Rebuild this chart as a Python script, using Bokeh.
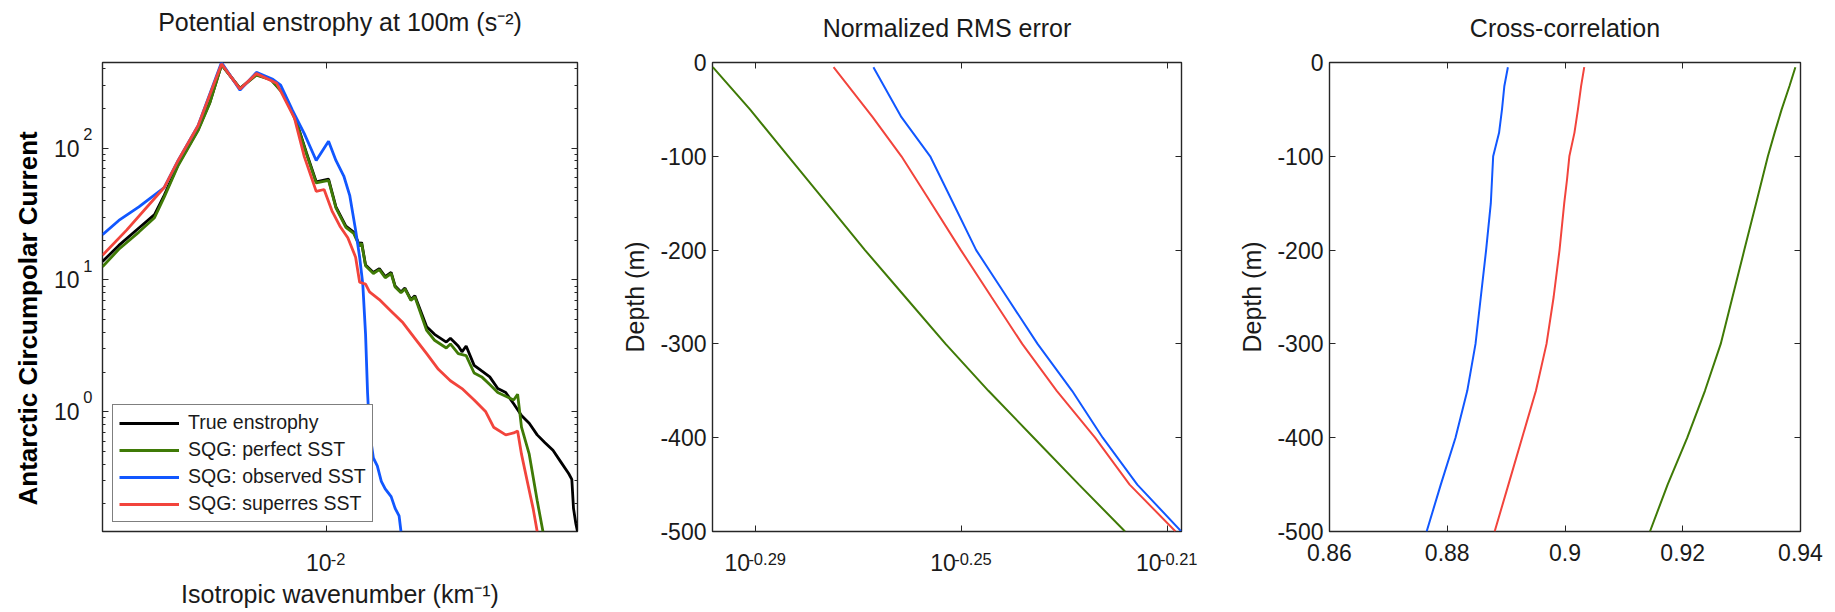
import math
from bokeh.plotting import figure
from bokeh.models import (Range1d, FixedTicker, LinearAxis, LogAxis, Title,
                          Legend, LegendItem)
from bokeh.layouts import row
from bokeh.embed import file_html
from bokeh.resources import INLINE

# ---------------------------------------------------------------- data
# Panel 1: potential enstrophy spectra at 100 m (wavenumber in km^-1)
true_k = [2.02e-3, 2.27e-3, 2.62e-3, 2.93e-3, 3.14e-3, 3.47e-3, 4.00e-3, 4.35e-3,
          4.73e-3, 5.40e-3, 6.07e-3, 6.73e-3, 7.43e-3, 8.09e-3, 8.68e-3, 9.31e-3,
          1.017e-2, 1.072e-2, 1.151e-2, 1.217e-2, 1.270e-2, 1.288e-2, 1.325e-2,
          1.401e-2, 1.462e-2, 1.525e-2, 1.591e-2, 1.637e-2, 1.707e-2, 1.756e-2,
          1.832e-2, 1.885e-2, 2.051e-2, 2.17e-2, 2.36e-2, 2.43e-2, 2.57e-2, 2.64e-2,
          2.72e-2, 2.88e-2, 3.04e-2, 3.22e-2, 3.41e-2, 3.61e-2, 3.82e-2, 4.04e-2,
          4.27e-2, 4.52e-2, 4.78e-2, 5.06e-2, 5.35e-2, 5.66e-2, 5.79e-2, 5.86e-2,
          5.96e-2, 6.03e-2]
true_e = [13.8, 18.3, 24.8, 31.3, 43.9, 75.4, 138, 222,
          430, 285, 361, 333, 254, 158, 92.3, 55.6,
          58.3, 35.9, 25.6, 23.1, 18.3, 19.3, 13.0,
          11.4, 12.2, 10.6, 11.4, 8.99, 8.12, 8.69,
          7.10, 7.59, 4.42, 3.87, 3.38, 3.61, 3.16, 2.85,
          3.16, 2.25, 2.04, 1.84, 1.50, 1.40, 1.15, 0.936,
          0.819, 0.668, 0.583, 0.510, 0.417, 0.340, 0.307, 0.185,
          0.1415, 0.1235]

perfect_k = [2.02e-3, 2.27e-3, 2.62e-3, 2.93e-3, 3.14e-3, 3.47e-3, 4.00e-3, 4.35e-3,
             4.73e-3, 5.40e-3, 6.07e-3, 6.73e-3, 7.43e-3, 8.09e-3, 8.68e-3, 9.31e-3,
             1.017e-2, 1.072e-2, 1.151e-2, 1.217e-2, 1.270e-2, 1.288e-2, 1.325e-2,
             1.401e-2, 1.462e-2, 1.525e-2, 1.591e-2, 1.637e-2, 1.707e-2, 1.756e-2,
             1.832e-2, 1.885e-2, 2.051e-2, 2.17e-2, 2.36e-2, 2.43e-2, 2.57e-2, 2.72e-2,
             2.88e-2, 3.04e-2, 3.22e-2, 3.41e-2, 3.61e-2, 3.82e-2, 3.93e-2, 4.04e-2,
             4.27e-2, 4.52e-2, 4.71e-2]
perfect_e = [12.6, 17.1, 23.1, 29.7, 42.5, 74.0, 136, 220,
             428, 284, 359, 331, 252, 156, 91.0, 54.5,
             57.0, 35.2, 25.1, 22.6, 18.0, 19.0, 12.8,
             11.2, 12.0, 10.4, 11.2, 8.85, 8.0, 8.55,
             7.0, 7.45, 4.14, 3.49, 3.05, 3.27, 2.76, 2.67,
             1.97, 1.84, 1.61, 1.40, 1.31, 1.23, 1.36, 0.765,
             0.477, 0.212, 0.1235]

observed_k = [2.02e-3, 2.27e-3, 2.62e-3, 3.14e-3, 3.47e-3, 4.00e-3, 4.73e-3, 5.40e-3,
              6.07e-3, 6.83e-3, 7.22e-3, 7.86e-3, 8.55e-3, 9.31e-3, 1.017e-2, 1.072e-2,
              1.134e-2, 1.183e-2, 1.234e-2, 1.270e-2, 1.299e-2, 1.325e-2, 1.344e-2,
              1.363e-2, 1.401e-2, 1.441e-2, 1.483e-2, 1.525e-2, 1.591e-2, 1.637e-2,
              1.684e-2, 1.707e-2]
observed_e = [22.1, 28.3, 35.9, 50.3, 80.7, 148, 447, 276,
              376, 333, 301, 194, 129, 80.7, 113, 80.7,
              61.5, 43.9, 23.9, 14.9, 9.30, 3.87, 1.40,
              0.715, 0.446, 0.389, 0.297, 0.260, 0.227, 0.185,
              0.162, 0.1235]

superres_k = [2.02e-3, 2.40e-3, 3.14e-3, 3.47e-3, 4.00e-3, 4.73e-3, 5.40e-3, 6.07e-3,
              7.02e-3, 7.97e-3, 8.55e-3, 9.31e-3, 9.85e-3, 1.042e-2, 1.103e-2, 1.167e-2,
              1.234e-2, 1.270e-2, 1.325e-2, 1.363e-2, 1.462e-2, 1.591e-2, 1.732e-2,
              1.885e-2, 2.051e-2, 2.23e-2, 2.43e-2, 2.64e-2, 2.88e-2, 3.13e-2, 3.31e-2,
              3.61e-2, 3.82e-2, 3.93e-2, 4.04e-2, 4.21e-2, 4.39e-2, 4.52e-2]
superres_e = [15.4, 23.9, 50.3, 80.7, 148, 436, 281, 368,
              311, 169, 86.3, 47.0, 48.6, 33.5, 25.6, 20.9,
              14.9, 9.62, 9.30, 8.12, 7.10, 5.80, 4.73,
              3.61, 2.76, 2.10, 1.72, 1.50, 1.23, 1.00, 0.764,
              0.668, 0.691, 0.715, 0.477, 0.297, 0.185, 0.1235]

# Panel 2: normalized RMS error against depth (m)
rms_depth = [-5, -50, -100, -150, -200, -250, -300, -350, -400, -450, -500]
rms_perfect = [0.50307, 0.51151, 0.52036, 0.52936, 0.53853, 0.54833, 0.55831,
               0.56913, 0.58078, 0.59267, 0.60501]
rms_superres_depth = [-5, -58.3, -100, -141.7, -200, -250, -300, -350, -400, -450, -500]
rms_superres = [0.53101, 0.54038, 0.54739, 0.55354, 0.56215, 0.56990, 0.57780,
                0.58680, 0.59695, 0.60626, 0.61886]
rms_observed_depth = [-5, -58.3, -100, -150, -200, -250, -300, -350, -400, -450, -500]
rms_observed = [0.54057, 0.54739, 0.55448, 0.56023, 0.56601, 0.57383, 0.58178,
                0.59084, 0.59900, 0.60834, 0.62046]

# Panel 3: cross-correlation against depth (m)
cc_depth = [-5, -25, -50, -75, -100, -125, -150, -200, -250, -300, -350, -400, -450, -500]
cc_observed = [0.8903, 0.8897, 0.8893, 0.8888, 0.8878, 0.8876, 0.8874, 0.8866,
               0.8857, 0.8848, 0.8834, 0.8814, 0.8789, 0.8765]
cc_superres = [0.90327, 0.90274, 0.9022, 0.9016, 0.90074, 0.90034, 0.89987, 0.89907,
               0.89807, 0.89686, 0.89506, 0.89272, 0.89039, 0.88805]
cc_perfect = [0.93913, 0.93813, 0.9368, 0.9356, 0.93446, 0.93346, 0.93246, 0.93045,
              0.92845, 0.92645, 0.92377, 0.92077, 0.91743, 0.91443]

legend_labels = ["True enstrophy", "SQG: perfect SST", "SQG: observed SST",
                 "SQG: superres SST"]
depth_ticks = [0, -100, -200, -300, -400, -500]
enstrophy_exps = [0, 1, 2]
wavenumber_exps = [-2]
rms_tick_exps = [-0.29, -0.25, -0.21]
cc_ticks = [0.86, 0.88, 0.90, 0.92, 0.94]
cc_tick_labels = ["0.86", "0.88", "0.9", "0.92", "0.94"]

# ---------------------------------------------------------------- style
FONT = "Liberation Sans"
INK = "#1a1a1a"
FRAME = "#262626"
BLACK = "#000000"
GREEN = "#3f7a06"
BLUE = "#1157ff"
RED = "#f2443c"
TICK_FS = "23px"
EXP_FS = "16.5px"
LABEL_FS = "25px"


def make_fig(width, xr, yr, xtype, ytype, left, right):
    p = figure(width=width, height=612, x_range=xr, y_range=yr,
               x_axis_type=xtype, y_axis_type=ytype,
               output_backend="svg", toolbar_location=None,
               min_border_left=left, min_border_right=right,
               min_border_top=62, min_border_bottom=81)
    p.grid.visible = False
    p.outline_line_color = FRAME
    p.outline_line_width = 1.4
    p.background_fill_color = "white"
    p.border_fill_color = "white"
    return p


def tick_axis(ax, ticks, minor=(), labels=None, standoff=0):
    """Axis drawing inward tick marks on the frame edge."""
    ax.ticker = FixedTicker(ticks=list(ticks), minor_ticks=list(minor))
    ax.axis_line_color = None
    ax.major_tick_in = 6
    ax.major_tick_out = 0
    ax.minor_tick_in = 3
    ax.minor_tick_out = 0
    ax.major_tick_line_color = FRAME
    ax.minor_tick_line_color = FRAME
    ax.major_label_text_font = FONT
    ax.major_label_text_font_size = TICK_FS
    ax.major_label_text_color = INK
    ax.major_label_standoff = standoff
    ax.major_label_overrides = dict(zip(ticks, labels if labels else [""] * len(ticks)))
    ax.axis_label_text_font = FONT
    ax.axis_label_text_font_size = LABEL_FS
    ax.axis_label_text_font_style = "normal"
    ax.axis_label_text_color = INK


def text_axis(ax, ticks, labels, size, standoff):
    """Label-only axis (no marks), used for the base and exponent of 10^n labels."""
    ax.ticker = FixedTicker(ticks=list(ticks))
    ax.axis_line_color = None
    ax.major_tick_line_color = None
    ax.minor_tick_line_color = None
    ax.major_tick_in = 0
    ax.major_tick_out = 0
    ax.minor_tick_in = 0
    ax.minor_tick_out = 0
    ax.major_label_text_font = FONT
    ax.major_label_text_font_size = size
    ax.major_label_text_color = INK
    ax.major_label_standoff = standoff
    ax.major_label_overrides = dict(zip(ticks, labels))
    ax.axis_label_text_font = FONT
    ax.axis_label_text_font_size = LABEL_FS
    ax.axis_label_text_font_style = "normal"
    ax.axis_label_text_color = INK


def mirror(p, xticks, yticks, title, title_standoff, xminor=(), yminor=(),
           xlog=False, ylog=False):
    """Tick marks on the top and right edges; the panel title sits on the top axis."""
    top = LogAxis() if xlog else LinearAxis()
    right = LogAxis() if ylog else LinearAxis()
    p.add_layout(top, "above")
    p.add_layout(right, "right")
    tick_axis(top, xticks, xminor)
    tick_axis(right, yticks, yminor)
    top.axis_label = title
    top.axis_label_standoff = title_standoff


def power_axes(p, side, exps, base_shift, exp_shift, base_standoff, exp_standoff):
    """Two stacked label axes: superscript exponents, then the '10' bases.
    Shifts are in decades along the axis (places base and exponent side by side)."""
    exp_ax = LogAxis()
    base_ax = LogAxis()
    p.add_layout(exp_ax, side)
    p.add_layout(base_ax, side)
    text_axis(exp_ax, [10 ** (e + exp_shift) for e in exps],
              [f"{e:g}" if isinstance(e, int) else f"{e:.2f}" for e in exps],
              EXP_FS, exp_standoff)
    text_axis(base_ax, [10 ** (e + base_shift) for e in exps], ["10"] * len(exps),
              TICK_FS, base_standoff)
    return base_ax


# ---------------------------------------------------------------- panel 1
K_MIN, K_MAX = 2.02e-3, 6.03e-2
E_MIN, E_MAX = 0.1235, 447
p1 = make_fig(602, Range1d(K_MIN, K_MAX), Range1d(E_MIN, E_MAX), "log", "log", 102, 25)
e_minor = [m * 10.0 ** d for d in (-1, 0, 1) for m in range(2, 10)] + [200, 300, 400]
tick_axis(p1.below[0], [10.0 ** e for e in wavenumber_exps])
tick_axis(p1.left[0], [10.0 ** e for e in enstrophy_exps], e_minor)
mirror(p1, [10.0 ** e for e in wavenumber_exps], [10.0 ** e for e in enstrophy_exps],
       "Potential enstrophy at 100m (s\u207b\u00b2)", 27,
       yminor=e_minor, xlog=True, ylog=True)
xbase = power_axes(p1, "below", wavenumber_exps, -0.023, 0.0366, -14, 21)
xbase.axis_label = "Isotropic wavenumber (km\u207b\u00b9)"
xbase.axis_label_standoff = 6
power_axes(p1, "left", enstrophy_exps, 0.0, 0.11, 1, 10)
p1.add_layout(Title(text="Antarctic Circumpolar Current", align="left", offset=26,
                    text_font=FONT, text_font_size="26px", text_font_style="bold",
                    text_color=BLACK, standoff=16), "left")

r_true = p1.line(true_k, true_e, line_color=BLACK, line_width=2.8)
r_perf = p1.line(perfect_k, perfect_e, line_color=GREEN, line_width=2.8)
r_obs = p1.line(observed_k, observed_e, line_color=BLUE, line_width=2.8)
r_sup = p1.line(superres_k, superres_e, line_color=RED, line_width=2.8)

legend = Legend(items=[LegendItem(label=lab, renderers=[r])
                       for lab, r in zip(legend_labels, [r_true, r_perf, r_obs, r_sup])],
                location=(10, 9), label_text_font=FONT, label_text_font_size="19.5px",
                label_text_color=INK, glyph_width=60, glyph_height=20,
                label_height=20, label_standoff=9, spacing=4, padding=6,
                margin=0, border_line_color="#000000", border_line_width=1.2,
                background_fill_alpha=1.0)
p1.add_layout(legend)

# ---------------------------------------------------------------- panel 2
R_MIN, R_MAX = 0.5030, 0.6205
p2 = make_fig(617, Range1d(R_MIN, R_MAX), Range1d(-500, 0), "log", "linear", 110, 38)
rms_ticks = [10 ** e for e in rms_tick_exps]
tick_axis(p2.below[0], rms_ticks)
tick_axis(p2.left[0], depth_ticks, labels=[str(t) for t in depth_ticks], standoff=6)
p2.left[0].axis_label = "Depth (m)"
p2.left[0].axis_label_standoff = 8
mirror(p2, rms_ticks, depth_ticks, "Normalized RMS error", 21, xlog=True)
power_axes(p2, "below", rms_tick_exps, -0.0036, 0.0022, -14, 21)
p2.line(rms_perfect, rms_depth, line_color=GREEN, line_width=2)
p2.line(rms_observed, rms_observed_depth, line_color=BLUE, line_width=2)
p2.line(rms_superres, rms_superres_depth, line_color=RED, line_width=2)

# ---------------------------------------------------------------- panel 3
p3 = make_fig(616, Range1d(0.86, 0.94), Range1d(-500, 0), "linear", "linear", 110, 35)
tick_axis(p3.below[0], cc_ticks, labels=cc_tick_labels, standoff=12)
tick_axis(p3.left[0], depth_ticks, labels=[str(t) for t in depth_ticks], standoff=6)
p3.left[0].axis_label = "Depth (m)"
p3.left[0].axis_label_standoff = 8
mirror(p3, cc_ticks, depth_ticks, "Cross-correlation", 21)
p3.line(cc_observed, cc_depth, line_color=BLUE, line_width=2)
p3.line(cc_superres, cc_depth, line_color=RED, line_width=2)
p3.line(cc_perfect, cc_depth, line_color=GREEN, line_width=2)

layout = row(p1, p2, p3)
open("out.html", "w").write(file_html(layout, INLINE, title="SQG reconstruction"))
